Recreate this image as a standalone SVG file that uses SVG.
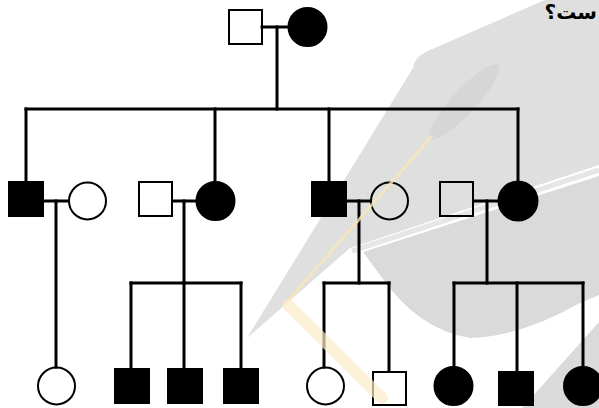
<svg xmlns="http://www.w3.org/2000/svg" width="599" height="408" viewBox="0 0 599 408">
  <style>
    .ln { stroke: #000; stroke-width: 3; fill: none; stroke-linecap: square; }
    .open { fill: none; stroke: #000; stroke-width: 2; }
    .aff { fill: #000; stroke: #000; stroke-width: 2; }
    .wm-board { fill: #dfdfdf; }
    .wm-head { fill: #dadada; }
    .wm-edge { stroke: #e6e6e6; stroke-width: 5; fill: none; }
    .wm-cord { stroke: #f8e6b8; stroke-width: 3; fill: none; opacity: 0.8; }
    .wm-tassel { stroke: #fcecc6; stroke-width: 12; fill: none; opacity: 0.7; stroke-linecap: round; }
    .caption { font-family: "DejaVu Sans", "Noto Sans", sans-serif; font-size: 20px; font-weight: bold; fill: #000; }
  </style>

  <rect width="599" height="408" fill="#fff"/>

  <!-- background emblem: mortarboard -->
  <g id="emblem">
    <path class="wm-board" d="M413,68 Q414,57 430,50 L545,0 L599,0 L599,165 L350,248 L247,338 Z"/>
    <path class="wm-head" d="M363,252 L599,176 L599,295 L578,304 Q522,336 470,338 Q418,330 380,275 Z"/>
    <line class="wm-edge" x1="352" y1="251" x2="599" y2="170"/>
    <path class="wm-head" d="M522,408 L599,322 L599,408 Z"/>
    <ellipse cx="464" cy="102" rx="50" ry="12" transform="rotate(-47 464 102)" fill="#d6d6d6"/>
  </g>

  <!-- caption fragment -->
  <text class="caption" x="597" y="19" direction="rtl" text-anchor="start">ست؟</text>

  <!-- connectors -->
  <g id="connectors">
    <!-- generation I -->
    <line class="ln" x1="262" y1="27" x2="288" y2="27"/>
    <line class="ln" x1="277" y1="27" x2="277" y2="109"/>
    <line class="ln" x1="26" y1="109" x2="518" y2="109"/>
    <line class="ln" x1="26" y1="109" x2="26" y2="181"/>
    <line class="ln" x1="215" y1="109" x2="215" y2="181"/>
    <line class="ln" x1="329" y1="109" x2="329" y2="181"/>
    <line class="ln" x1="518" y1="109" x2="518" y2="181"/>
    <!-- couple II-1 / II-2 -->
    <line class="ln" x1="44" y1="201" x2="68" y2="201"/>
    <line class="ln" x1="56" y1="201" x2="56" y2="367"/>
    <!-- couple II-3 / II-4 -->
    <line class="ln" x1="173" y1="201" x2="196" y2="201"/>
    <line class="ln" x1="184" y1="201" x2="184" y2="283"/>
    <line class="ln" x1="131" y1="283" x2="241" y2="283"/>
    <line class="ln" x1="131" y1="283" x2="131" y2="368"/>
    <line class="ln" x1="184" y1="283" x2="184" y2="368"/>
    <line class="ln" x1="241" y1="283" x2="241" y2="368"/>
    <!-- couple II-5 / II-6 -->
    <line class="ln" x1="347" y1="201" x2="370" y2="201"/>
    <line class="ln" x1="359" y1="201" x2="359" y2="283"/>
    <line class="ln" x1="324" y1="283" x2="389" y2="283"/>
    <line class="ln" x1="324" y1="283" x2="324" y2="367"/>
    <line class="ln" x1="389" y1="283" x2="389" y2="371"/>
    <!-- couple II-7 / II-8 -->
    <line class="ln" x1="474" y1="201" x2="498" y2="201"/>
    <line class="ln" x1="487" y1="201" x2="487" y2="283"/>
    <line class="ln" x1="454" y1="283" x2="583" y2="283"/>
    <line class="ln" x1="454" y1="283" x2="454" y2="366"/>
    <line class="ln" x1="517" y1="283" x2="517" y2="371"/>
    <line class="ln" x1="583" y1="283" x2="583" y2="366"/>
  </g>

  <!-- generation I -->
  <g id="I-1"><rect class="open" x="229" y="10" width="33" height="34"/></g>
  <g id="I-2"><circle class="aff" cx="307.5" cy="27" r="19"/></g>

  <!-- generation II -->
  <g id="II-1"><rect class="aff" x="9" y="182" width="34" height="34"/></g>
  <g id="II-2"><circle class="open" cx="87.5" cy="201" r="18.5"/></g>
  <g id="II-3"><rect class="open" x="139" y="182" width="33" height="34"/></g>
  <g id="II-4"><circle class="aff" cx="215.5" cy="201" r="19"/></g>
  <g id="II-5"><rect class="aff" x="312" y="182" width="34" height="34"/></g>
  <g id="II-6"><circle class="open" cx="389.5" cy="201" r="18.5"/></g>
  <g id="II-7"><rect class="open" x="440" y="182" width="33" height="34"/></g>
  <g id="II-8"><circle class="aff" cx="518" cy="201" r="19.5"/></g>

  <!-- generation III -->
  <g id="III-1"><circle class="open" cx="56.5" cy="386" r="18.5"/></g>
  <g id="III-2"><rect class="aff" x="115" y="369" width="34" height="34"/></g>
  <g id="III-3"><rect class="aff" x="168" y="369" width="34" height="34"/></g>
  <g id="III-4"><rect class="aff" x="224" y="369" width="34" height="34"/></g>
  <g id="III-5"><circle class="open" cx="325.5" cy="386" r="18.5"/></g>
  <g id="III-6"><rect class="open" x="373" y="372" width="33" height="33"/></g>
  <g id="III-7"><circle class="aff" cx="453.5" cy="386" r="19"/></g>
  <g id="III-8"><rect class="aff" x="499" y="372" width="34" height="33"/></g>
  <g id="III-9"><circle class="aff" cx="583" cy="386" r="19"/></g>

  <!-- emblem cord and tassel, drawn over the chart -->
  <g id="emblem-tassel">
    <line class="wm-cord" x1="432" y1="136" x2="287" y2="302"/>
    <line class="wm-tassel" x1="288" y1="305" x2="382" y2="398"/>
  </g>
</svg>
